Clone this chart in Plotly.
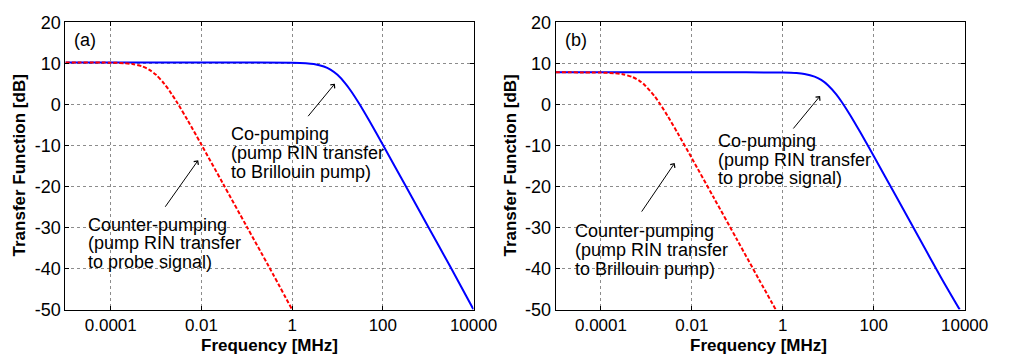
import plotly.graph_objects as go

# ---------------- data ----------------
# Panel (a)
freq_a_co = [1e-5, 1e-3, 0.1, 1, 2, 3, 5, 7, 10, 15, 20, 30, 50, 100, 300, 1000, 3000, 10000]
tf_a_co = [10.2, 10.2, 10.2, 10.16, 10.03, 9.83, 9.23, 8.47, 7.19, 5.08, 3.21, 0.2, -3.95, -9.84, -19.35, -29.8, -39.34, -50]
freq_a_counter = [1e-5, 1e-4, 2e-4, 3e-4, 5e-4, 7e-4, 1e-3, 1.5e-3, 2e-3, 3e-3, 5e-3, 1e-2, 3e-2, 0.1, 0.3, 1]
tf_a_counter = [10.2, 10.16, 10.03, 9.83, 9.23, 8.47, 7.19, 5.08, 3.21, 0.2, -3.95, -9.84, -19.35, -29.8, -39.34, -50]

# Panel (b)
freq_b_co = [1e-5, 1e-3, 0.1, 1, 2, 3, 5, 7, 10, 15, 20, 30, 50, 100, 300, 1000, 3000, 7800]
tf_b_co = [7.8, 7.8, 7.8, 7.75, 7.62, 7.4, 6.76, 5.95, 4.61, 2.43, 0.53, -2.52, -6.69, -12.59, -22.1, -32.55, -42.1, -50]
freq_b_counter = [1e-5, 1e-4, 2e-4, 3e-4, 5e-4, 7e-4, 9e-4, 1.5e-3, 2e-3, 3e-3, 5e-3, 1e-2, 3e-2, 0.1, 0.3, 0.7]
tf_b_counter = [7.8, 7.75, 7.59, 7.34, 6.63, 5.74, 4.79, 2.03, 0.06, -3.03, -7.24, -13.15, -22.65, -33.1, -42.7, -50]

x_tickvals = [1e-4, 1e-2, 1, 1e2, 1e4]
x_ticktext = ["0.0001", "0.01", "1", "100", "10000"]
y_tickvals = [-50, -40, -30, -20, -10, 0, 10, 20]
y_ticktext = ["-50", "-40", "-30", "-20", "-10", "0", "10", "20"]

panel_labels = ["(a)", "(b)"]
co_text_a = ["Co-pumping", "(pump RIN transfer", "to Brillouin pump)"]
counter_text_a = ["Counter-pumping", "(pump RIN transfer", "to probe signal)"]
co_text_b = ["Co-pumping", "(pump RIN transfer", "to probe signal)"]
counter_text_b = ["Counter-pumping", "(pump RIN transfer", "to Brillouin pump)"]
x_title = "Frequency [MHz]"
y_title = "Transfer Function [dB]"

# ---------------- figure ----------------
W, H = 1014, 364
FONT = "Arial, Liberation Sans, sans-serif"
BLUE = "#0000FF"
RED = "#FF0000"
TXT = 18


def px(x):
    return x / W


def py(y):
    return 1 - y / H


fig = go.Figure()

fig.add_trace(go.Scatter(x=freq_a_co, y=tf_a_co, mode="lines", xaxis="x", yaxis="y",
                         line=dict(color=BLUE, width=2, shape="spline", smoothing=0.8), showlegend=False))
fig.add_trace(go.Scatter(x=freq_a_counter, y=tf_a_counter, mode="lines", xaxis="x", yaxis="y",
                         line=dict(color=RED, width=2, dash="4px,2px", shape="spline", smoothing=0.8), showlegend=False))
fig.add_trace(go.Scatter(x=freq_b_co, y=tf_b_co, mode="lines", xaxis="x2", yaxis="y2",
                         line=dict(color=BLUE, width=2, shape="spline", smoothing=0.8), showlegend=False))
fig.add_trace(go.Scatter(x=freq_b_counter, y=tf_b_counter, mode="lines", xaxis="x2", yaxis="y2",
                         line=dict(color=RED, width=2, dash="4px,2px", shape="spline", smoothing=0.8), showlegend=False))

ydom = [py(317), py(13)]
xdom_a = [px(67), px(485)]
xdom_b = [px(569), px(988)]

xaxis_common = dict(type="log", range=[-5, 4], tickvals=x_tickvals, ticktext=x_ticktext,
                    showgrid=True, gridcolor="#8c8c8c", griddash="dot", gridwidth=1,
                    showline=True, linecolor="black", linewidth=1, mirror="ticks",
                    ticks="inside", ticklen=4, tickcolor="black",
                    tickfont=dict(family=FONT, size=17, color="black"), zeroline=False)
yaxis_common = dict(range=[-50, 20], tickvals=y_tickvals, ticktext=y_ticktext,
                    showgrid=True, gridcolor="#8c8c8c", griddash="dot", gridwidth=1,
                    showline=True, linecolor="black", linewidth=1, mirror="ticks",
                    ticks="inside", ticklen=4, tickcolor="black",
                    tickfont=dict(family=FONT, size=18, color="black"), zeroline=False)

fig.update_layout(
    width=W, height=H,
    margin=dict(l=0, r=0, t=0, b=0),
    paper_bgcolor="white", plot_bgcolor="white",
    font=dict(family=FONT, size=17, color="black"),
    xaxis=dict(domain=xdom_a, anchor="y", **xaxis_common),
    yaxis=dict(domain=ydom, anchor="x", **yaxis_common),
    xaxis2=dict(domain=xdom_b, anchor="y2", **xaxis_common),
    yaxis2=dict(domain=ydom, anchor="x2", **yaxis_common),
)

ann = []


def text_lines(lines, left, centers):
    for t, c in zip(lines, centers):
        ann.append(dict(text=t, x=px(left), y=py(c), xref="paper", yref="paper",
                        xanchor="left", yanchor="middle", showarrow=False,
                        font=dict(family=FONT, size=TXT, color="black")))


def arrow(head, tail):
    ann.append(dict(text="", x=px(head[0]), y=py(head[1]), xref="paper", yref="paper",
                    ax=tail[0] - head[0], ay=tail[1] - head[1], axref="pixel", ayref="pixel",
                    showarrow=True, arrowhead=4, arrowsize=1.1, arrowwidth=1, arrowcolor="black"))


# panel labels
ann.append(dict(text=panel_labels[0], x=px(74), y=py(32), xref="paper", yref="paper",
                xanchor="left", yanchor="middle", showarrow=False, font=dict(family=FONT, size=TXT)))
ann.append(dict(text=panel_labels[1], x=px(577), y=py(32), xref="paper", yref="paper",
                xanchor="left", yanchor="middle", showarrow=False, font=dict(family=FONT, size=TXT)))

text_lines(co_text_a, 235, [131, 151, 171])
text_lines(counter_text_a, 88, [227, 247, 267])
text_lines(co_text_b, 733, [139, 159, 178])
text_lines(counter_text_b, 587, [234, 254, 274])

arrow((343, 78), (315, 112))
arrow((203, 159), (169, 207))
arrow((840, 91), (812, 125))
arrow((691, 162), (657, 212))

# axis titles
for cx in (276, 777):
    ann.append(dict(text="<b>" + x_title + "</b>", x=px(cx), y=py(366), xref="paper", yref="paper",
                    xanchor="center", yanchor="bottom", showarrow=False, borderpad=0,
                    font=dict(family=FONT, size=17, color="black")))
for cx in (20, 523):
    ann.append(dict(text="<b>" + y_title + "</b>", x=px(cx), y=py(165), xref="paper", yref="paper",
                    xanchor="center", yanchor="middle", showarrow=False, textangle=-90,
                    font=dict(family=FONT, size=17, color="black")))

fig.update_layout(annotations=ann)

fig.write_html("out.html")
